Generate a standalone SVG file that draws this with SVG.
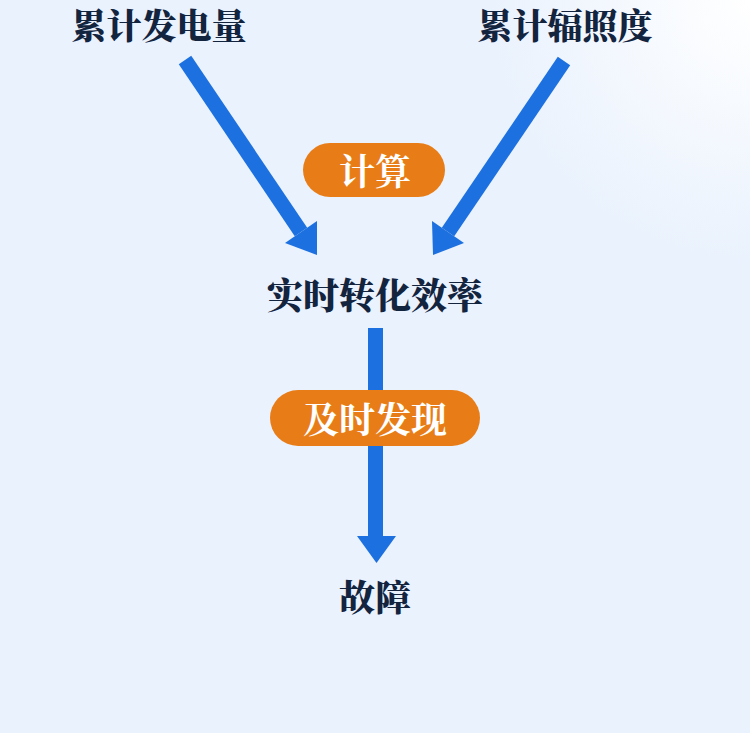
<svg xmlns="http://www.w3.org/2000/svg" width="750" height="733" viewBox="0 0 750 733">
<defs>
<radialGradient id="bg" cx="750" cy="0" r="260" gradientUnits="userSpaceOnUse">
<stop offset="0" stop-color="#ffffff"/>
<stop offset="1" stop-color="#eaf2fd"/>
</radialGradient>
<style>
.lbl{font-family:"Noto Serif CJK SC","Noto Sans CJK SC",serif;font-weight:900;fill:#13243f;text-anchor:middle;dominant-baseline:central}
.pilltxt{font-family:"Noto Serif CJK SC","Noto Sans CJK SC",serif;font-weight:700;fill:#ffffff;text-anchor:middle;dominant-baseline:central;font-size:36px}
.pill{fill:#e87d18}
.shaft{stroke:#1c70df;stroke-width:15;fill:none}
.head{fill:#1c70df}
</style>
</defs>
<rect width="750" height="733" fill="#eaf2fd"/>
<rect width="750" height="733" fill="url(#bg)"/>
<g id="connectors">
<line class="shaft" x1="185" y1="60" x2="301" y2="232"/>
<polygon class="head" points="285,243 317,221 317,255"/>
<line class="shaft" x1="564" y1="61" x2="448" y2="232"/>
<polygon class="head" points="432,221 464,243 433,255"/>
<line class="shaft" x1="375.5" y1="328" x2="375.5" y2="537"/>
<polygon class="head" points="357,536 396,536 376.5,563"/>
</g>
<g id="node-power"><text class="lbl" x="159" y="24" font-size="35">累计发电量</text></g>
<g id="node-irradiance"><text class="lbl" x="565" y="24" font-size="35">累计辐照度</text></g>
<g id="node-calc"><rect class="pill" x="303" y="143" width="142" height="54" rx="27"/><text class="pilltxt" x="375" y="169">计算</text></g>
<g id="node-efficiency"><text class="lbl" x="375" y="293" font-size="36">实时转化效率</text></g>
<g id="node-detect"><rect class="pill" x="270" y="390" width="210" height="56" rx="28"/><text class="pilltxt" x="375" y="417">及时发现</text></g>
<g id="node-fault"><text class="lbl" x="375" y="595" font-size="36">故障</text></g>
</svg>
